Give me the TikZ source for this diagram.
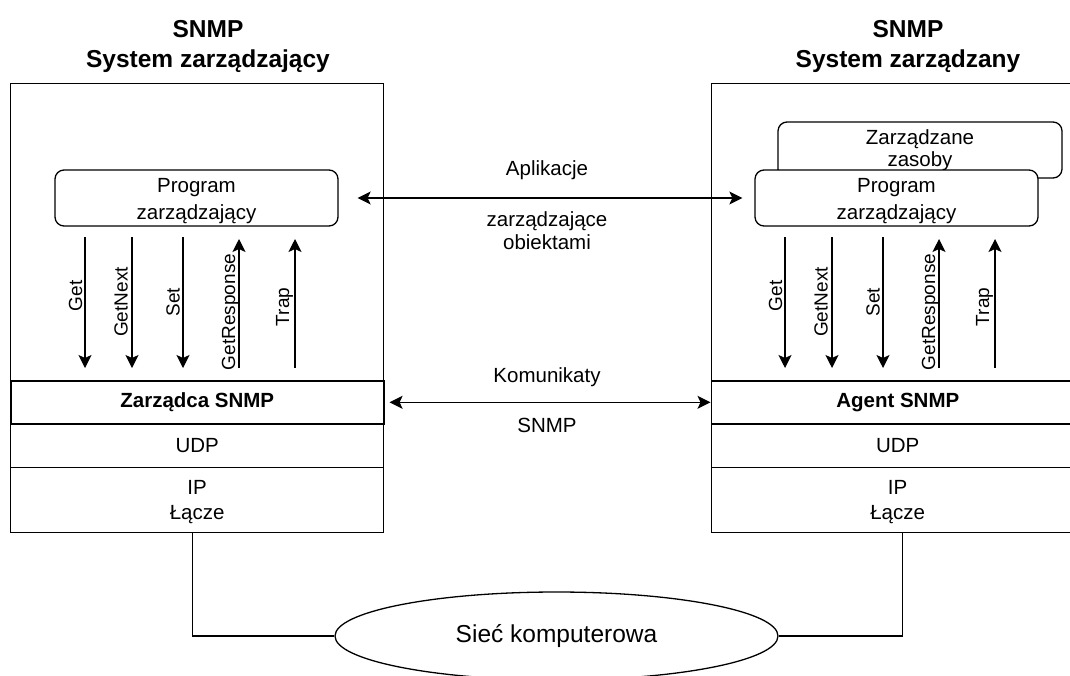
\documentclass[tikz,border=0pt]{standalone}
\usepackage{fontspec}
\setmainfont{Liberation Sans}
\usetikzlibrary{arrows.meta,shapes.geometric,calc}
\tikzset{
  base line/.style={line width=1.3pt, draw=black},
  layer/.style={base line, rectangle, inner sep=0pt, anchor=north west, align=center,
    font=\fontsize{20.5}{25}\selectfont},
  prog/.style={base line, rectangle, rounded corners=9pt, fill=white, inner sep=0pt,
    minimum width=283pt, minimum height=56pt},
  progtext/.style={align=center, inner sep=0pt, font=\fontsize{20.5}{27}\selectfont},
  title/.style={align=center, font=\fontsize{24.5}{30}\selectfont\bfseries, inner sep=0pt},
  plain/.style={align=center, font=\fontsize{20.5}{23}\selectfont, inner sep=0pt},
  msg/.style={rotate=90, anchor=base, inner sep=0pt, font=\fontsize{19}{22}\selectfont},
  head/.tip={Stealth[length=13pt,width=13pt,inset=3pt]},
  tip/.style={-{head}},
  both tips/.style={{head}-{head}},
  link/.style={line width=1.3pt}
}
\begin{document}
\begin{tikzpicture}[x=1pt,y=-1pt]
\useasboundingbox (0,0) rectangle (1070,675);

% headings
\node[title] (ltitle) at (208,46) {SNMP\\System zarządzający};
\node[title] (rtitle) at (908,46) {SNMP\\System zarządzany};

% managing station
\node[layer, minimum width=373pt, minimum height=449pt] (lsys) at (10,83) {};
\node[layer, minimum width=373pt, minimum height=43pt, line width=1.6pt,
      font=\fontsize{20.5}{25}\selectfont\bfseries] (lmgr) at (10,380) {Zarządca SNMP};
\node[layer, minimum width=373pt, minimum height=44pt] (ludp) at (10,423) {UDP};
\node[layer, minimum width=373pt, minimum height=65pt] (lip) at (10,467) {};
\node[progtext, font=\fontsize{20.5}{25}\selectfont] (liptxt) at ([yshift=-2pt]lip.center) {IP\\Łącze};
\node[prog] (lprog) at (196.5,198) {};
\node[progtext] (lprogtxt) at ([yshift=-3pt]lprog.center) {Program\\zarządzający};

% managed station
\node[layer, minimum width=373pt, minimum height=449pt] (rsys) at (710.5,83) {};
\node[layer, minimum width=373pt, minimum height=43pt, line width=1.6pt,
      font=\fontsize{20.5}{25}\selectfont\bfseries] (ragent) at (710.5,380) {Agent SNMP};
\node[layer, minimum width=373pt, minimum height=44pt] (rudp) at (710.5,423) {UDP};
\node[layer, minimum width=373pt, minimum height=65pt] (rip) at (710.5,467) {};
\node[progtext, font=\fontsize{20.5}{25}\selectfont] (riptxt) at ([yshift=-2pt]rip.center) {IP\\Łącze};
\node[prog, minimum width=284pt] (rres) at (920,150) {};
\node[progtext, font=\fontsize{20.5}{22}\selectfont] (rrestxt) at ([yshift=-0.5pt]rres.center) {Zarządzane\\zasoby};
\node[prog] (rprog) at (896.5,198) {};
\node[progtext] (rprogtxt) at ([yshift=-3pt]rprog.center) {Program\\zarządzający};

% protocol operations on both sides
\foreach \side/\dx in {l/0, r/700} {
  \foreach \name/\x in {get/85, next/132, set/183, resp/239, trap/295} {
    \coordinate (\side\name-top) at (\x+\dx,237);
    \coordinate (\side\name-bot) at (\x+\dx,368);
  }
  \draw[link, tip] (\side get-top) -- (\side get-bot);
  \draw[link, tip] (\side next-top) -- (\side next-bot);
  \draw[link, tip] (\side set-top) -- (\side set-bot);
  \draw[link, tip] (\side resp-bot) -- ([yshift=-2pt]\side resp-top);
  \draw[link, tip] (\side trap-bot) -- ([yshift=-2pt]\side trap-top);
  \node[msg] (\side get-lbl) at (82+\dx,296) {Get};
  \node[msg] (\side next-lbl) at (127.5+\dx,302) {GetNext};
  \node[msg] (\side set-lbl) at (179.5+\dx,302) {Set};
  \node[msg] (\side resp-lbl) at (235+\dx,312) {GetResponse};
  \node[msg] (\side trap-lbl) at (289+\dx,307) {Trap};
}

% peer exchanges
\draw[link, both tips, shorten <=19pt, shorten >=12pt] (lprog.east) -- (rprog.west);
\node[plain] (apl) at (547,170) {Aplikacje};
\node[plain] (apl2) at (547,231) {zarządzające\\obiektami};
\draw[link, both tips, shorten <=5pt] (lmgr.east) -- (ragent.west);
\node[plain] (kom) at (547,377) {Komunikaty};
\node[plain] (kom2) at (547,425) {SNMP};

% network
\node[base line, ellipse, minimum width=443pt, minimum height=88pt, inner sep=0pt,
      font=\fontsize{24.5}{28}\selectfont] (net) at (556.5,636) {Sieć komputerowa};
\draw[link] ([xshift=-4.5pt]lip.south) |- (net.west);
\draw[link] ([xshift=4.5pt]rip.south) |- (net.east);
\end{tikzpicture}
\end{document}
